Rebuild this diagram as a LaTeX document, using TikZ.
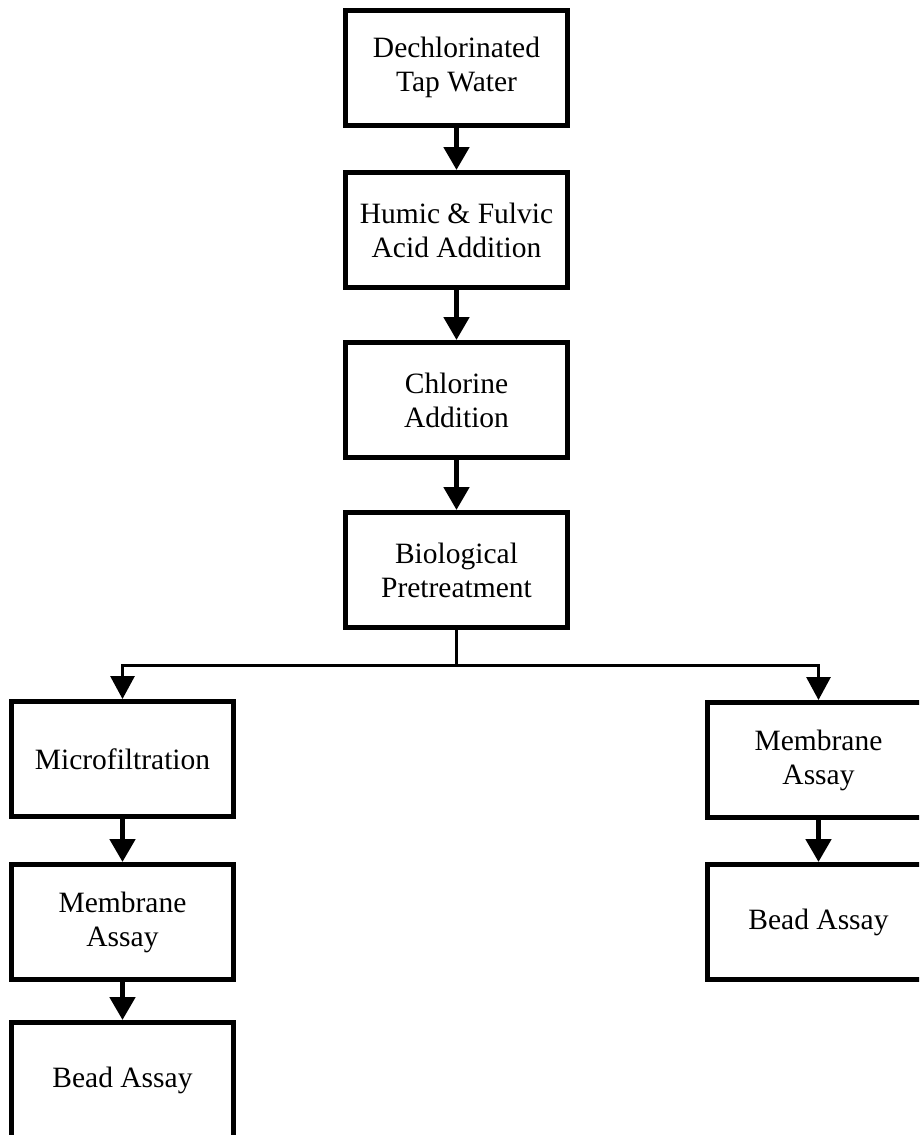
\documentclass[tikz,border=0pt]{standalone}
\usepackage{fontspec}
\setmainfont{Liberation Serif}
\usetikzlibrary{arrows.meta}
\begin{document}
\begin{tikzpicture}[x=1pt,y=-1pt,
  box/.style={draw,line width=5pt,minimum width=222pt,minimum height=115pt,
    align=center,inner sep=0pt,font=\fontsize{29.5}{34}\selectfont},
  flow/.style={line width=5pt,-{Triangle[width=25pt,length=23pt]}},
  branch/.style={line width=3pt},
  brancharrow/.style={line width=3pt,-{Triangle[width=24pt,length=23pt]}}]
\useasboundingbox (0,0) rectangle (919,1135);
\clip (0,0) rectangle (919,1135);
\node[box] (dech) at (456.5,67.5) {Dechlorinated\\Tap Water};
\node[box] (humic) at (456.5,230) {Humic \& Fulvic\\Acid Addition};
\node[box] (chlor) at (456.5,400) {Chlorine\\Addition};
\node[box] (bio) at (456.5,570) {Biological\\Pretreatment};
\node[box] (micro) at (122.5,759) {Microfiltration};
\node[box] (memL) at (122.5,922) {Membrane\\Assay};
\node[box] (beadL) at (122.5,1080) {Bead Assay};
\node[box] (memR) at (818.5,760) {Membrane\\Assay};
\node[box] (beadR) at (818.5,922) {Bead Assay};
\coordinate (split) at (456.5,665);
\draw[flow] (dech) -- (humic);
\draw[flow] (humic) -- (chlor);
\draw[flow] (chlor) -- (bio);
\draw[branch] (bio.south) -- (split);
\draw[brancharrow] (split) -| (micro.north);
\draw[brancharrow] (split) -| (memR.north);
\draw[flow] (micro) -- (memL);
\draw[flow] (memL) -- (beadL);
\draw[flow] (memR) -- (beadR);
\end{tikzpicture}
\end{document}
